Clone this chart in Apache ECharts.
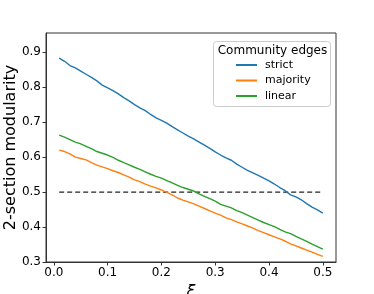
<!DOCTYPE html>
<html><head><meta charset="utf-8">
<script src="https://cdn.jsdelivr.net/npm/echarts@6/dist/echarts.min.js"></script>
<style>html,body{margin:0;padding:0;background:#fff}#c{width:374px;height:294px}</style>
</head><body><div id="c"></div>
<script>
const xi = [0.01,0.02,0.03,0.04,0.05,0.06,0.07,0.08,0.09,0.10,0.11,0.12,0.13,0.14,0.15,0.16,0.17,0.18,0.19,0.20,0.21,0.22,0.23,0.24,0.25,0.26,0.27,0.28,0.29,0.30,0.31,0.32,0.33,0.34,0.35,0.36,0.37,0.38,0.39,0.40,0.41,0.42,0.43,0.44,0.45,0.46,0.47,0.48,0.49,0.50];
const strict = [0.883,0.874,0.862,0.855,0.846,0.837,0.828,0.818,0.806,0.798,0.790,0.781,0.770,0.761,0.750,0.741,0.733,0.722,0.712,0.705,0.697,0.687,0.678,0.669,0.660,0.652,0.643,0.634,0.625,0.615,0.606,0.598,0.591,0.580,0.571,0.562,0.555,0.548,0.540,0.532,0.523,0.513,0.504,0.492,0.486,0.478,0.467,0.457,0.449,0.440];
const majority = [0.620,0.616,0.609,0.600,0.596,0.592,0.584,0.577,0.572,0.567,0.561,0.556,0.549,0.543,0.535,0.530,0.523,0.517,0.512,0.506,0.499,0.492,0.483,0.477,0.472,0.466,0.460,0.453,0.446,0.440,0.434,0.426,0.421,0.415,0.409,0.403,0.397,0.390,0.384,0.378,0.372,0.366,0.360,0.352,0.346,0.340,0.334,0.328,0.322,0.316];
const linear = [0.663,0.657,0.650,0.643,0.638,0.631,0.624,0.616,0.611,0.606,0.599,0.591,0.584,0.578,0.571,0.565,0.558,0.551,0.545,0.540,0.533,0.526,0.519,0.513,0.508,0.503,0.495,0.488,0.481,0.474,0.465,0.460,0.455,0.447,0.441,0.434,0.427,0.420,0.413,0.407,0.401,0.393,0.386,0.381,0.373,0.366,0.359,0.351,0.344,0.337];
const refLevel = 0.5;
const xTicks = [0.0,0.1,0.2,0.3,0.4,0.5];
const yTicks = [0.3,0.4,0.5,0.6,0.7,0.8,0.9];
const seriesNames = ['strict','majority','linear'];
const colors = ['#1f77b4','#ff7f0e','#2ca02c'];
const FONT = 'DejaVu Sans';

const pairs = arr => xi.map((x,i)=>[x,arr[i]]);
const vals = [strict, majority, linear];
const chart = echarts.init(document.getElementById('c'), null, {renderer:'canvas'});
const series = seriesNames.map((n,i)=>({
  name:n, type:'line', data:pairs(vals[i]), symbol:'none', smooth:false,
  lineStyle:{color:colors[i], width:1.4}, itemStyle:{color:colors[i]}, z:3
}));
series.push({
  name:'ref', type:'line', data:[[xi[0],refLevel],[xi[xi.length-1],refLevel]], symbol:'none',
  lineStyle:{color:'#222', width:1.4, type:[5,3]}, z:2, silent:true
});
chart.setOption({
  animation:false,
  backgroundColor:'#fff',
  grid:{left:46, right:38, top:33, bottom:32, show:true, borderColor:'#333', borderWidth:1, containLabel:false, outerBoundsMode:'none'},
  xAxis:{type:'value', min:-0.0145, max:0.5245,
    name:'ξ', nameLocation:'middle', nameGap:22, nameMoveOverlap:false,
    nameTextStyle:{fontFamily:FONT, fontSize:16, fontStyle:'italic', color:'#000'},
    axisLine:{show:true, onZero:false, lineStyle:{color:'#333'}},
    axisTick:{show:true, length:3.5, customValues:xTicks, lineStyle:{color:'#333'}},
    axisLabel:{customValues:xTicks, formatter:v=>v.toFixed(1), fontFamily:FONT, fontSize:12, color:'#000', margin:5},
    splitLine:{show:false}},
  yAxis:{type:'value', min:0.3, max:0.955,
    name:'2-section modularity', nameLocation:'middle', nameGap:27, nameMoveOverlap:false,
    nameTextStyle:{fontFamily:FONT, fontSize:16, color:'#000'},
    axisLine:{show:true, onZero:false, lineStyle:{color:'#333'}},
    axisTick:{show:true, length:3.5, customValues:yTicks, lineStyle:{color:'#333'}},
    axisLabel:{customValues:yTicks, formatter:v=>v.toFixed(1), fontFamily:FONT, fontSize:12, color:'#000', margin:5},
    splitLine:{show:false}},
  legend:{data:seriesNames, orient:'vertical', left:236, top:58.5, padding:0, itemWidth:21, itemHeight:2, itemGap:2.5, z:100,
    icon:'rect',
    textStyle:{fontFamily:FONT, fontSize:11, lineHeight:13, color:'#000', padding:[0,0,0,3]}},
  graphic:[
    {type:'rect', shape:{x:213.5, y:41.5, width:117, height:65, r:3}, style:{fill:'#fff', stroke:'#ccc', lineWidth:1}, z:1},
    {type:'text', x:272.5, y:51, style:{text:'Community edges', fontFamily:FONT, fontSize:12, fill:'#000', align:'center', verticalAlign:'middle'}, z:60}
  ],
  series:series
});
</script></body></html>
